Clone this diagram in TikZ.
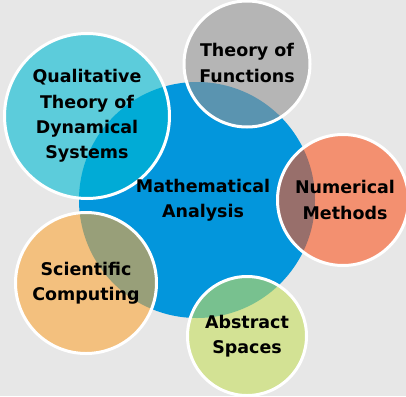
\documentclass[tikz,border=0pt]{standalone}
\usepackage{fontspec}
\setmainfont{DejaVu Sans}
\usetikzlibrary{positioning}

\definecolor{bgGray}{RGB}{231,231,231}
\definecolor{anaBlue}{RGB}{3,150,220}
\definecolor{dynCyan}{RGB}{0,186,211}
\definecolor{funGray}{RGB}{148,148,148}
\definecolor{numSalmon}{RGB}{252,86,33}
\definecolor{sciOrange}{RGB}{252,166,56}
\definecolor{absGreen}{RGB}{198,223,93}

\tikzset{
  disc/.style={circle, minimum size=1.5*#1pt, inner sep=0pt, draw=white,
    line width=2.25pt, fill opacity=0.6},
  lbl/.style={align=center, inner sep=0pt,
    font=\bfseries\fontsize{13.1}{19}\selectfont}
}

\begin{document}
\begin{tikzpicture}[x=0.75pt,y=0.75pt,yscale=-1,xscale=1]
\useasboundingbox (0,0) rectangle (406,396);
\fill[bgGray] (0,0) rectangle (406,396);
\clip (0,0) rectangle (406,396);

% Shape: Circle (centre)
\node[circle, fill=anaBlue, minimum size=1.5*118pt] (ma) at (197,200) {};

% Shape: Circles round it
\node[disc=82.5, fill=dynCyan] (qt) at (87,116) {};
\node[disc=63, fill=funGray] (tf) at (247,64) {};
\node[disc=65.5, fill=numSalmon] (nm) at (343,200) {};
\node[disc=70.5, fill=sciOrange] (sc) at (86,283) {};
\node[disc=59.5, fill=absGreen] (as) at (247,336) {};

% Text Node
\node[lbl] (malbl) at ([xshift=4.5pt]ma.center) {Mathematical\\Analysis};
\node[lbl] (qtlbl) at (qt.center) {Qualitative\\Theory of\\Dynamical\\Systems};
\node[lbl] (tflbl) at ([yshift=-0.75pt]tf.center) {Theory of\\Functions};
\node[lbl] (nmlbl) at ([xshift=1.5pt]nm.center) {Numerical\\Methods};
\node[lbl] (sclbl) at (sc.center) {Scientific\\Computing};
\node[lbl] (aslbl) at (as.center) {Abstract\\Spaces};

\end{tikzpicture}
\end{document}
